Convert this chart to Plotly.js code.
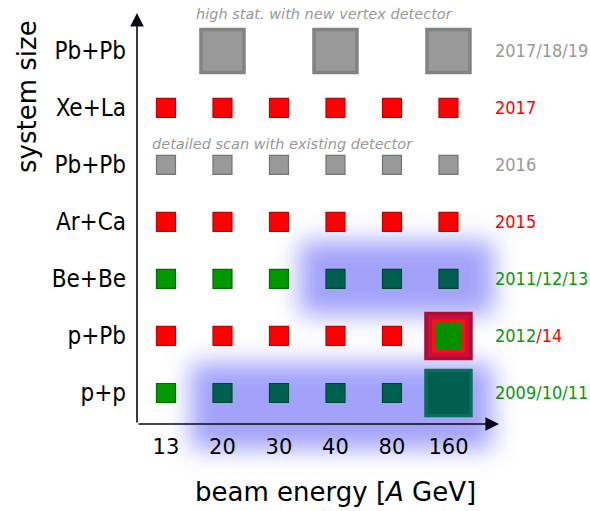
<!DOCTYPE html>
<html><head><meta charset="utf-8">
<script src="https://cdn.plot.ly/plotly-3.0.1.min.js"></script>
<style>html,body{margin:0;padding:0;background:#fff}#chart{width:590px;height:511px}</style>
</head><body><div id="chart"></div>
<script>
// ---- data ----
const energies = ['13','20','30','40','80','160'];
const systems  = ['p+p','p+Pb','Be+Be','Ar+Ca','Pb+Pb','Xe+La','Pb+Pb'];
const years    = ['2009/10/11','2012/14','2011/12/13','2015','2016','2017','2017/18/19'];
const yearColors = ['#0a980a','#0a980a','#0a980a','#ff0000','#999999','#ff0000','#999999'];

// small squares, by kind (energy label, row index)
const greenE = ['13','13','20','30'];            const greenRow = [0,2,2,2];
const tealE  = ['20','30','40','80','40','80','160']; const tealRow = [0,0,0,0,2,2,2];
const redE   = ['13','20','30','40','80', '13','20','30','40','80','160', '13','20','30','40','80','160'];
const redRow = [1,1,1,1,1, 3,3,3,3,3,3, 5,5,5,5,5,5];
const grayE  = ['13','20','30','40','80','160'];  const grayRow = [4,4,4,4,4,4];
// large squares
const bigGrayE = ['20','40','160'];  const bigGrayRow = [6,6,6];
const bigTealE = ['160'];            const bigTealRow = [0];
const bigFramedE = ['160'];          const bigFramedRow = [1];
// highlighted (blue glow) ranges: [first energy, last energy, row]
const glowLow  = ['20','160',0];
const glowHigh = ['40','160',2];

// ---- geometry helpers (axis ranges) ----
const XR = [-0.513, 5.735], YR = [-0.544, 6.63];
const L = 137, R = 100, T = 15, B = 87, W = 590, H = 511;
const pw = W - L - R, ph = H - T - B;
const xi = e => energies.indexOf(e);
const xpix = v => L + (v - XR[0]) / (XR[1] - XR[0]) * pw;
const ypix = v => T + (YR[1] - v) / (YR[1] - YR[0]) * ph;
const px2paperX = p => (p - L) / pw;
const px2paperY = p => (H - B - p) / ph;

function sq(xs, rows, size, color, lineColor, lw) {
  return {type:'scatter', mode:'markers', x: xs.map(xi), y: rows,
    marker:{symbol:'square', size:size, color:color, line:{color:lineColor, width:lw}},
    hoverinfo:'skip', cliponaxis:false, showlegend:false};
}
const traces = [
  sq(greenE, greenRow, 19, '#009a00', '#006c00', 1.2),
  sq(tealE, tealRow, 19, '#00604f', '#004538', 1.2),
  sq(redE, redRow, 19, '#ff0000', '#c40000', 1.2),
  sq(grayE, grayRow, 19, '#999999', '#747474', 1.2),
  sq(bigGrayE, bigGrayRow, 43, '#999999', '#838383', 3.5),
  sq(bigTealE, bigTealRow, 45, '#005f4f', '#0a6e58', 3.5),
  sq(bigFramedE, bigFramedRow, 45, '#c8103f', '#b00a35', 3.5),
  sq(bigFramedE, bigFramedRow, 30, '#009000', '#ff1010', 3)
];

function glowShape(g, padL, padR, padT, padB) {
  const x0 = xpix(xi(g[0])) - padL, x1 = xpix(xi(g[1])) + padR;
  const yc = ypix(g[2]);
  return {type:'rect', xref:'paper', yref:'paper', layer:'below',
    x0: px2paperX(x0), x1: px2paperX(x1), y0: px2paperY(yc + padB), y1: px2paperY(yc - padT),
    fillcolor:'rgb(162,162,250)', line:{width:0}};
}
const shapes = [glowShape(glowLow, 32, 44, 30, 56), glowShape(glowHigh, 36, 45, 38, 36)];

const font = 'DejaVu Sans, sans-serif';
const cfont = 'DejaVu Sans Condensed, DejaVu Sans, sans-serif';
const annotations = [];
years.forEach((y, i) => {
  let txt = y;
  if (y === '2012/14') txt = '2012<span style="color:#ff0000">/14</span>';
  annotations.push({xref:'paper', yref:'y', x: px2paperX(493), y: i, xanchor:'left', yanchor:'middle',
    text: txt, showarrow:false, font:{family:cfont, size:18, color:yearColors[i]}});
});
annotations.push({xref:'paper', yref:'paper', x: px2paperX(324), y: px2paperY(14), text:'<i>high stat. with new vertex detector</i>',
  showarrow:false, font:{family:font, size:14.5, color:'#999999'}, xanchor:'center', yanchor:'middle'});
annotations.push({xref:'paper', yref:'paper', x: px2paperX(282), y: px2paperY(144), text:'<i>detailed scan with existing detector</i>',
  showarrow:false, font:{family:font, size:14.5, color:'#999999'}, xanchor:'center', yanchor:'middle'});
annotations.push({xref:'paper', yref:'paper', x: px2paperX(335), y: px2paperY(492), text:'beam energy [<i>A</i> GeV]',
  showarrow:false, font:{family:font, size:26, color:'#000'}, xanchor:'center', yanchor:'middle'});
annotations.push({xref:'paper', yref:'paper', x: px2paperX(27), y: px2paperY(97), text:'system size', textangle:-90,
  showarrow:false, font:{family:font, size:26, color:'#000'}, xanchor:'center', yanchor:'middle'});
// axis arrows
annotations.push({xref:'paper', yref:'paper', x: px2paperX(499), y: 0, ax:-362, ay:0, axref:'pixel', ayref:'pixel',
  text:'', showarrow:true, arrowhead:2, arrowsize:1.7, arrowwidth:1.6, arrowcolor:'#0a0a1a'});
annotations.push({xref:'paper', yref:'paper', x: 0, y: px2paperY(13), ax:0, ay:411, axref:'pixel', ayref:'pixel',
  text:'', showarrow:true, arrowhead:2, arrowsize:1.7, arrowwidth:1.6, arrowcolor:'#0a0a1a'});

const layout = {
  width:W, height:H, margin:{l:L, r:R, t:T, b:B}, paper_bgcolor:'#fff', plot_bgcolor:'rgba(0,0,0,0)',
  showlegend:false,
  xaxis:{range:XR, tickvals:energies.map(xi), ticktext:energies, showgrid:false, zeroline:false, showline:false,
    ticks:'', tickfont:{family:font, size:21, color:'#000'}, ticklabelstandoff:8, fixedrange:true},
  yaxis:{range:YR, tickvals:systems.map((s,i)=>i), ticktext:systems, showgrid:false, zeroline:false, showline:false,
    ticks:'', tickfont:{family:cfont, size:24, color:'#000'}, ticklabelstandoff:10, fixedrange:true},
  shapes:shapes, annotations:annotations
};

Plotly.newPlot('chart', traces, layout, {displayModeBar:false, staticPlot:true}).then(gd => {
  const svg = gd.querySelector('.main-svg');
  const NS = 'http://www.w3.org/2000/svg';
  let defs = svg.querySelector('defs');
  if (!defs) { defs = document.createElementNS(NS, 'defs'); svg.insertBefore(defs, svg.firstChild); }
  const f = document.createElementNS(NS, 'filter');
  f.setAttribute('id', 'glowblur');
  f.setAttribute('x', '-60%'); f.setAttribute('y', '-60%'); f.setAttribute('width', '220%'); f.setAttribute('height', '220%');
  const b = document.createElementNS(NS, 'feGaussianBlur');
  b.setAttribute('stdDeviation', '12');
  f.appendChild(b); defs.appendChild(f);
  gd.querySelectorAll('.shapelayer path').forEach(p => p.setAttribute('filter', 'url(#glowblur)'));
});
</script></body></html>
